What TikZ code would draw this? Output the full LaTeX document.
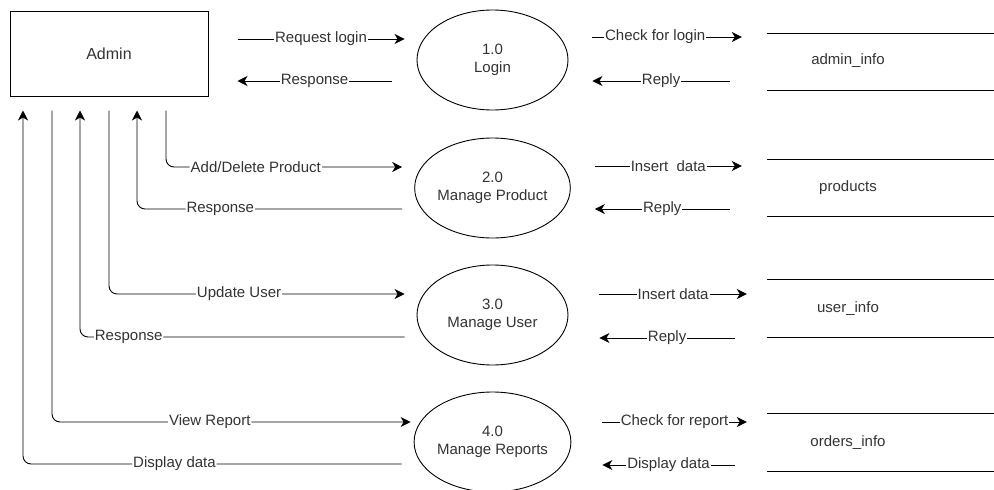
\documentclass[tikz,border=0pt]{standalone}
\usepackage{fontspec}
\setmainfont{Liberation Sans}
\usetikzlibrary{shapes.geometric, arrows.meta, positioning, calc}

\begin{document}
\begin{tikzpicture}[x=1pt, y=-1pt, font=\fontsize{15}{18}\selectfont]
    \tikzstyle{entity} = [rectangle, draw=black, line width=1pt, minimum width=198pt, minimum height=85pt, text=black!80, font=\fontsize{16}{19}\selectfont]
    \tikzstyle{process} = [ellipse, draw=black, line width=0.9pt, inner sep=0pt, minimum width=151pt, minimum height=100pt, align=center, text=black!80]
    \tikzstyle{store} = [rectangle, minimum width=162pt, minimum height=57pt, text=black!80]
    \tikzstyle{arrow} = [line width=0.9pt, ->, >={Stealth[length=10pt, width=10pt, inset=3pt]}]
    \tikzstyle{flow} = [fill=white, inner sep=1pt, text=black!80]
    \useasboundingbox (0,0) rectangle (994,490);

    \node[entity] (admin) at (109,53.5) {Admin};
    \node[process] (p1) at (492.5,60) {1.0\\Login};
    \node[process] (p2) at (492.5,188) {2.0\\Manage Product};
    \node[process] (p3) at (492.5,315) {3.0\\Manage User};
    \node[process] (p4) at (492.5,442) {4.0\\Manage Reports};
    \node[store] (s1) at (848,61) {admin\_info};
    \node[store] (s2) at (848,188) {products};
    \node[store] (s3) at (848,308.5) {user\_info};
    \node[store] (s4) at (848,442.5) {orders\_info};

    % data stores: open rectangles
    \draw[line width=1pt] ([yshift=-1pt]s1.north west) -- ++(227,0) ([yshift=-1pt]s1.south west) -- ++(227,0);
    \draw[line width=1pt] (s2.north west) -- ++(227,0) (s2.south west) -- ++(227,0);
    \draw[line width=1pt] (s3.north west) -- ++(227,0) (s3.south west) -- ++(227,0);
    \draw[line width=1pt] (s4.north west) -- ++(227,0) (s4.south west) -- ++(227,0);

    % admin <-> processes
    \draw[arrow] ([shift={(29,-14.5)}]admin.east) -- node[flow] {Request login} ([shift={(-12,-21)}]p1.west);
    \draw[arrow] ([shift={(-25,21)}]p1.west) -- node[flow] {Response} ([shift={(29,27.5)}]admin.east);
    \draw[arrow, rounded corners=8pt] ([shift={(57,14)}]admin.south) |- node[flow, pos=0.69] {Add/Delete Product} ([shift={(-12,-21)}]p2.west);
    \draw[arrow, rounded corners=8pt] ([shift={(-12,21)}]p2.west) -| node[flow, pos=0.343] {Response} ([shift={(28,14)}]admin.south);
    \draw[arrow, rounded corners=8pt] ([shift={(0,14)}]admin.south) |- node[flow, pos=0.72] {Update User} ([shift={(-12,-21)}]p3.west);
    \draw[arrow, rounded corners=8pt] ([shift={(-12,22)}]p3.west) -| node[flow, pos=0.425] {Response} ([shift={(-29,14)}]admin.south);
    \draw[arrow, rounded corners=8pt] ([shift={(-57,14)}]admin.south) |- node[flow, pos=0.72] {View Report} ([shift={(-3,-20)}]p4.west);
    \draw[arrow, rounded corners=8pt] ([shift={(-12,22)}]p4.west) -| node[flow, pos=0.3] {Display data} ([shift={(-86,14)}]admin.south);

    % processes <-> data stores
    \draw[arrow] ([shift={(24,-23)}]p1.east) -- node[flow, pos=0.42] {Check for login} ([shift={(-25,-24)}]s1.west);
    \draw[arrow] ([shift={(-37,20)}]s1.west) -- node[flow] {Reply } ([shift={(24,21)}]p1.east);
    \draw[arrow] ([shift={(24,-22)}]p2.east) -- node[flow] {Insert\ \ data} ([shift={(-25,-22)}]s2.west);
    \draw[arrow] ([shift={(-37,21)}]s2.west) -- node[flow] {Reply} ([shift={(24,21)}]p2.east);
    \draw[arrow] ([shift={(31,-21)}]p3.east) -- node[flow] {Insert data} ([shift={(-20,-14.5)}]s3.west);
    \draw[arrow] ([shift={(-32,29.5)}]s3.west) -- node[flow] {Reply} ([shift={(31,23)}]p3.east);
    \draw[arrow] ([shift={(31,-20)}]p4.east) -- node[flow] {Check for report} ([shift={(-20,-20.5)}]s4.west);
    \draw[arrow] ([shift={(-32,22.5)}]s4.west) -- node[flow] {Display data} ([shift={(31,23)}]p4.east);
\end{tikzpicture}
\end{document}
